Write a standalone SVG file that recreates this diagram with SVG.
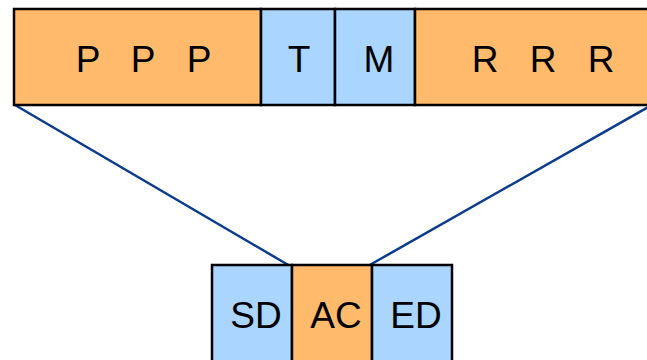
<svg xmlns="http://www.w3.org/2000/svg" width="647" height="360" viewBox="0 0 647 360">
<style>
.o{fill:#FFBA6C;stroke:#000;stroke-width:2.5}
.b{fill:#A9D5FF;stroke:#000;stroke-width:2.5}
.t{font-family:"Liberation Sans",Arial,sans-serif;font-size:37px;fill:#000;text-anchor:middle}
.c{stroke:#0B3B8C;stroke-width:2.5;fill:none}
</style>
<g id="connectors">
<line class="c" x1="15" y1="105" x2="290" y2="266"/>
<line class="c" x1="650" y1="106" x2="368" y2="266"/>
</g>
<g id="top-P"><rect class="o" x="14" y="9" width="247" height="96"/><text class="t" y="72"><tspan x="88">P</tspan><tspan x="143">P</tspan><tspan x="199">P</tspan></text></g>
<g id="top-T"><rect class="b" x="261" y="9" width="74" height="96"/><text class="t" x="299" y="72">T</text></g>
<g id="top-M"><rect class="b" x="335" y="9" width="80" height="96"/><text class="t" x="379" y="72">M</text></g>
<g id="top-R"><rect class="o" x="415" y="9" width="240" height="96"/><text class="t" y="72"><tspan x="485">R</tspan><tspan x="543">R</tspan><tspan x="601">R</tspan></text></g>
<g id="SD"><rect class="b" x="212" y="265" width="80" height="100"/><text class="t" x="256" y="328">SD</text></g>
<g id="AC"><rect class="o" x="292" y="265" width="80" height="100"/><text class="t" x="336" y="328">AC</text></g>
<g id="ED"><rect class="b" x="372" y="265" width="80" height="100"/><text class="t" x="416" y="328">ED</text></g>
</svg>
